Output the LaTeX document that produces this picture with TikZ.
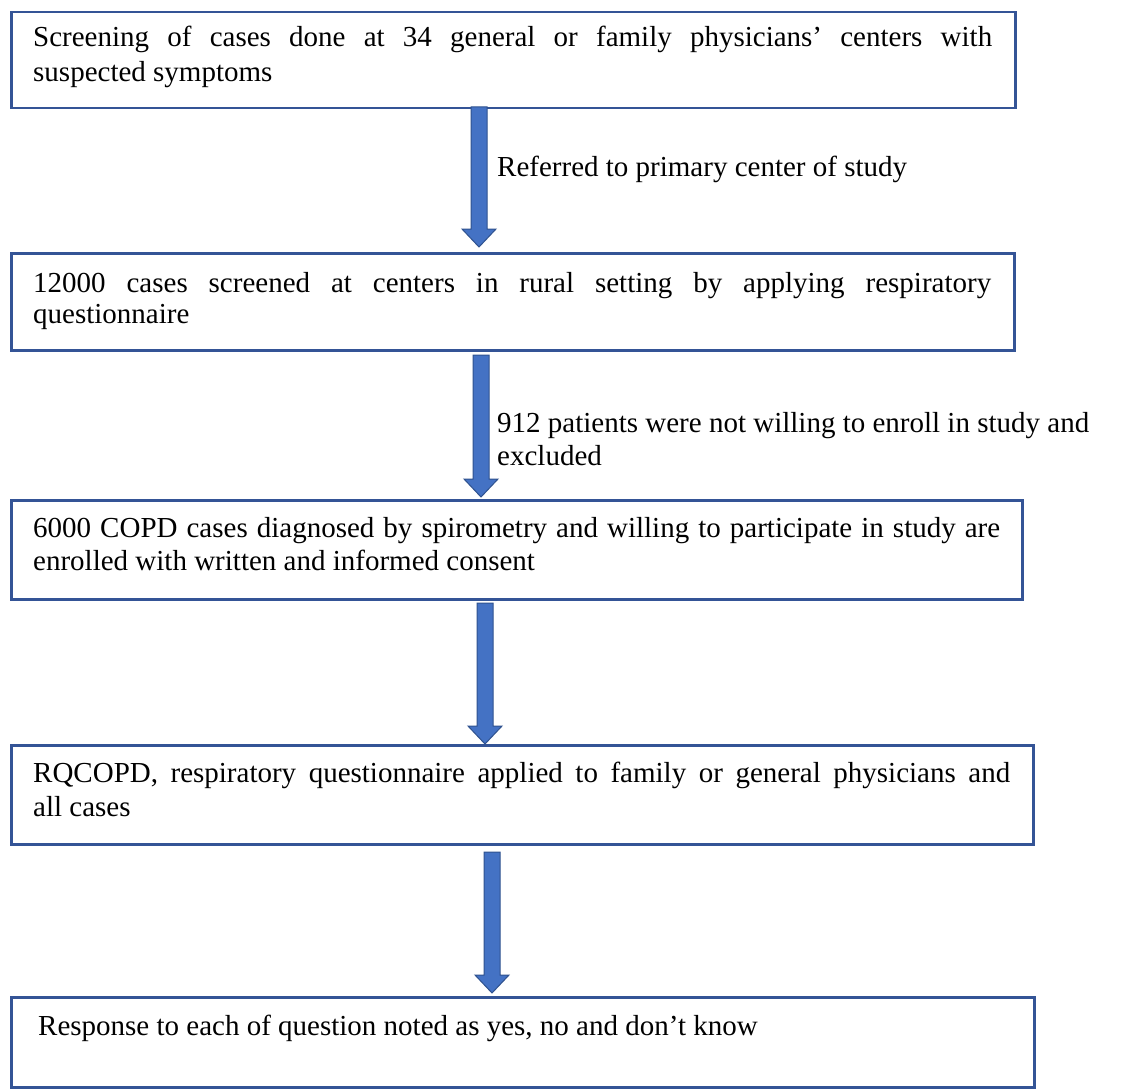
\documentclass[tikz,border=0pt]{standalone}
\usepackage{fontspec}
\setmainfont{Liberation Serif}
\usetikzlibrary{calc}
\definecolor{boxblue}{RGB}{52,84,150}
\definecolor{arrowfill}{RGB}{68,114,196}
\definecolor{arrowedge}{RGB}{47,82,143}
\newcommand{\blockarr}[2]{\draw[blockarrow] ($(#1)+(-8,0)$) -- ($(#2)+(-8,-18)$) -- ($(#2)+(-17,-18)$) -- (#2) -- ($(#2)+(17,-18)$) -- ($(#2)+(8,-18)$) -- ($(#1)+(8,0)$) -- cycle;}
\begin{document}
\begin{tikzpicture}[x=1pt,y=-1pt,
  box/.style={draw=boxblue,line width=2.5pt,fill=white,anchor=north west,inner sep=0pt},
  txt/.style={anchor=base west,inner sep=0pt,font=\fontsize{29}{34}\selectfont},
  blockarrow/.style={fill=arrowfill,draw=arrowedge,line width=1pt,line join=miter}]
\useasboundingbox (0,0) rectangle (1134,1089);
\fill[white] (0,0) rectangle (1134,1089);

% boxes
\node[box,minimum width=1004pt,minimum height=96pt] (b1) at (10,11) {};
\node[box,minimum width=1003pt,minimum height=97pt] (b2) at (10,252) {};
\node[box,minimum width=1011pt,minimum height=99pt] (b3) at (10,499) {};
\node[box,minimum width=1022pt,minimum height=99pt] (b4) at (10,744) {};
\node[box,minimum width=1023pt,minimum height=90pt] (b5) at (10,996) {};

% texts
\node[txt] (t1a) at (33,47) {\makebox[959pt][s]{Screening of cases done at 34 general or family physicians’ centers with}};
\node[txt] (t1b) at (33,82) {suspected symptoms};
\node[txt] (t2a) at (33,292) {\makebox[958pt][s]{12000 cases screened at centers in rural setting by applying respiratory}};
\node[txt] (t2b) at (33,323) {questionnaire};
\node[txt] (t3a) at (33,537) {\makebox[967pt][s]{6000 COPD cases diagnosed by spirometry and willing to participate in study are}};
\node[txt] (t3b) at (33,570) {enrolled with written and informed consent};
\node[txt] (t4a) at (33,782) {\makebox[977pt][s]{RQCOPD, respiratory questionnaire applied to family or general physicians and}};
\node[txt] (t4b) at (33,816) {all cases};
\node[txt] (t5) at (38,1035) {Response to each of question noted as yes, no and don’t know};

% arrows
\coordinate (a1s) at (479,107); \coordinate (a1e) at (479,247);
\coordinate (a2s) at (481,355); \coordinate (a2e) at (481,497);
\coordinate (a3s) at (485,603); \coordinate (a3e) at (485,744);
\coordinate (a4s) at (492,852); \coordinate (a4e) at (492,993);
\blockarr{a1s}{a1e}
\blockarr{a2s}{a2e}
\blockarr{a3s}{a3e}
\blockarr{a4s}{a4e}

% labels
\node[txt] (l1) at (497,176) {Referred to primary center of study};
\node[txt] (l2a) at (497,432) {912 patients were not willing to enroll in study and};
\node[txt] (l2b) at (497,465) {excluded};
\end{tikzpicture}
\end{document}
